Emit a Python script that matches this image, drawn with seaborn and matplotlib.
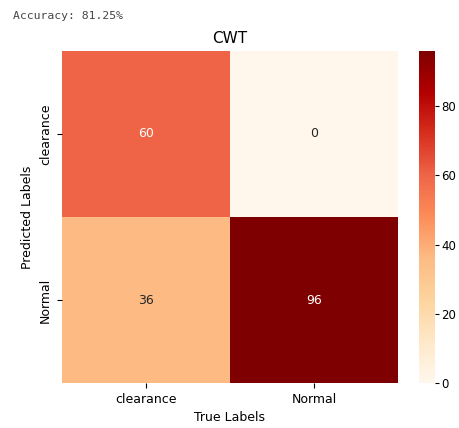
import matplotlib
matplotlib.use("Agg")
import matplotlib.pyplot as plt
import seaborn as sns
import numpy as np

labels = ["clearance", "Normal"]
row_clearance = [60, 0]
row_normal = [36, 96]
accuracy_text = "Accuracy: 81.25%"

cm = np.array([row_clearance, row_normal])

fig = plt.figure(figsize=(4.59, 4.28), dpi=100)
ax = fig.add_axes([0.135, 0.105, 0.732, 0.776])
cax = fig.add_axes([0.913, 0.105, 0.035, 0.776])

sns.heatmap(cm, annot=True, fmt="d", cmap="OrRd", xticklabels=labels, yticklabels=labels,
            ax=ax, cbar_ax=cax, annot_kws={"fontsize": 9})
ax.set_title("CWT", fontsize=11)
ax.set_xlabel("True Labels", fontsize=9)
ax.set_ylabel("Predicted Labels", fontsize=9)
ax.tick_params(labelsize=9)
cax.tick_params(labelsize=8.5, pad=1.5, length=3)
cax.set_yticks([0, 20, 40, 60, 80])

fig.text(0.028, 0.963, accuracy_text, family="DejaVu Sans Mono", fontsize=8.2, va="center", color="#444444")

fig.savefig("out.png", dpi=100)
